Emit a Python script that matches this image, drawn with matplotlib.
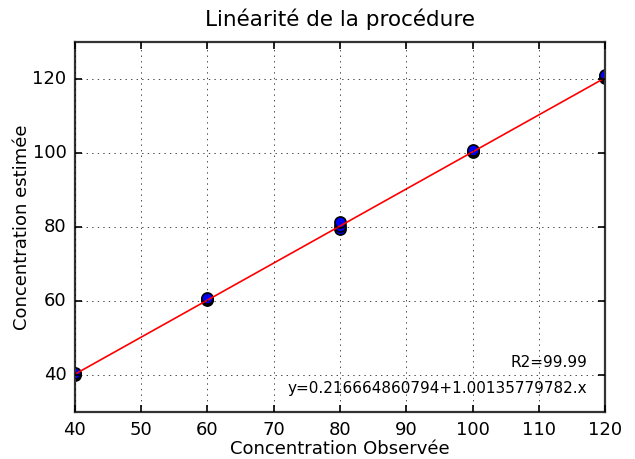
import numpy as np
import matplotlib
matplotlib.use("Agg")
import matplotlib.pyplot as plt

plt.style.use("classic")

# observed vs estimated concentrations (replicates per level)
conc_obs = [40, 40, 40, 60, 60, 60, 80, 80, 80, 100, 100, 100, 120, 120, 120]
conc_est = [40.0, 40.3, 40.6, 60.2, 60.5, 60.9, 79.6, 80.4, 81.3,
            100.3, 100.6, 100.9, 120.4, 120.8, 121.1]

intercept = 0.216664860794
slope = 1.00135779782
r2 = 99.99

fig = plt.figure(figsize=(6.35, 4.59), dpi=100, facecolor="white")
ax = fig.add_axes([0.118, 0.102, 0.835, 0.806])

x = np.array(conc_obs, dtype=float)
ax.plot(x, conc_est, "o", color="blue", markeredgecolor="black",
        markersize=8, markeredgewidth=1.2)
xl = np.array([min(conc_obs), max(conc_obs)], dtype=float)
ax.plot(xl, intercept + slope * xl, "r-", linewidth=1.2)

ax.set_xlim(40, 120)
ax.set_ylim(30, 130)
ax.set_xticks(range(40, 121, 10))
ax.set_yticks(range(40, 121, 20))
ax.grid(True, color="black", linestyle=":")
for s in ax.spines.values():
    s.set_linewidth(1.6)
    s.set_color("#333333")
ax.tick_params(labelsize=13, length=5, width=1.2, pad=6)

ax.set_title("Linéarité de la procédure", fontsize=15.5, y=1.025)
ax.set_xlabel("Concentration Observée", fontsize=13, labelpad=1)
ax.set_ylabel("Concentration estimée", fontsize=13, labelpad=1)

ax.text(0.966, 0.135, "R2=%.2f" % r2, transform=ax.transAxes,
        ha="right", va="center", fontsize=11)
ax.text(0.966, 0.065, "y=%s+%s.x" % (repr(intercept), repr(slope)),
        transform=ax.transAxes, ha="right", va="center", fontsize=11)

fig.savefig("out.png", dpi=100, facecolor="white")
